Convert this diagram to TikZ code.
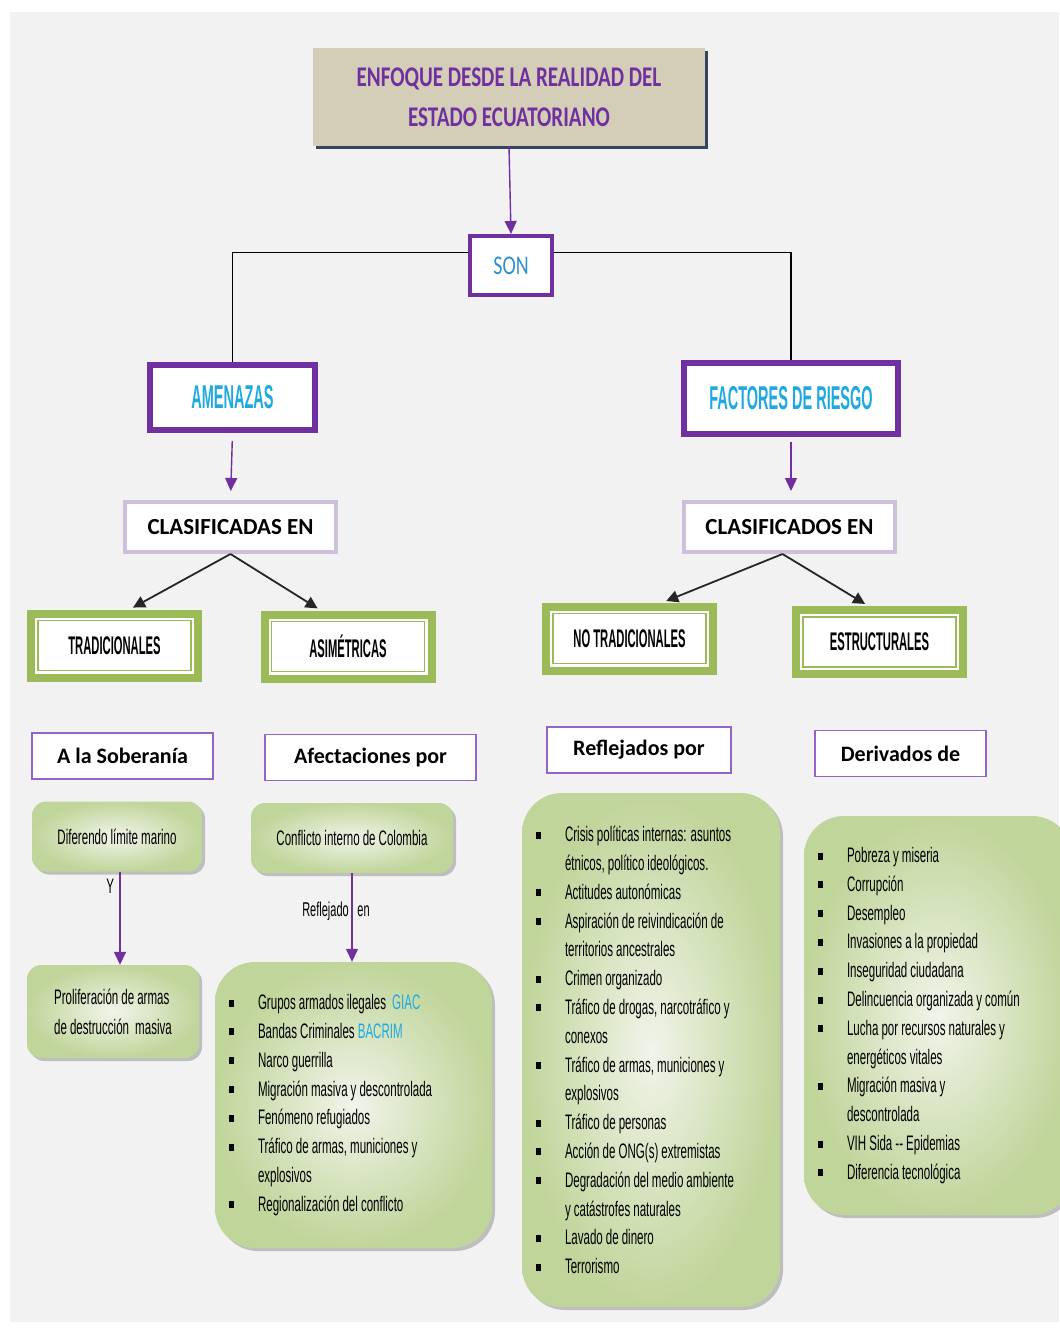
\documentclass[tikz,border=0pt]{standalone}
\usepackage{fontspec}
\newfontfamily\calfont{Carlito}
\newfontfamily\headfont[FakeStretch=0.74]{Carlito}
\newfontfamily\narrowfont[FakeStretch=0.55, WordSpace=0.95]{Liberation Sans}
\newfontfamily\narrowbold[FakeStretch=0.44]{Liberation Sans}
\usetikzlibrary{arrows.meta,shadows}

\definecolor{paper}{HTML}{F2F2F2}
\definecolor{purp}{HTML}{7030A0}
\definecolor{lilac}{HTML}{CCC0DA}
\definecolor{tagline}{HTML}{9366C6}
\definecolor{skyblue}{HTML}{1FA9E1}
\definecolor{sonblue}{HTML}{2E8FD3}
\definecolor{leaf}{HTML}{9BBB59}
\definecolor{sand}{HTML}{D4CEB8}
\definecolor{shadowblue}{HTML}{34455F}
\definecolor{gdark}{HTML}{C0D59A}
\definecolor{glight}{HTML}{F1F4EA}

\newcommand{\bul}{\makebox[29pt][l]{\rule[3pt]{4.5pt}{7pt}}}
\newcommand{\ind}{\hspace*{29pt}}

\tikzset{
  titlebox/.style={fill=sand, minimum width=392pt, minimum height=98pt, align=center, text=purp,
    font=\headfont\bfseries\fontsize{28.5}{40}\selectfont,
    drop shadow={shadow xshift=3pt, shadow yshift=-3pt, fill=shadowblue, opacity=1}},
  sonbox/.style={draw=purp, line width=4pt, fill=white, minimum width=82pt, minimum height=59pt,
    text=sonblue, font=\headfont\fontsize{27}{30}\selectfont},
  mainbox/.style={draw=purp, line width=6pt, fill=white, minimum height=65pt, text=skyblue,
    font=\narrowbold\bfseries\fontsize{33}{36}\selectfont},
  clsbox/.style={draw=lilac, line width=4pt, fill=white, minimum width=211pt, minimum height=50pt,
    font=\calfont\bfseries\fontsize{23}{26}\selectfont},
  typebox/.style={draw=leaf, line width=8pt, fill=white, minimum width=167pt, minimum height=64pt,
    font=\narrowbold\bfseries\fontsize{25.5}{28}\selectfont,
    path picture={\draw[leaf, line width=1.6pt]
      ([shift={(7pt,-7pt)}]path picture bounding box.north west) rectangle
      ([shift={(-7pt,7pt)}]path picture bounding box.south east);}},
  tagbox/.style={draw=tagline, line width=1.8pt, fill=white, minimum height=46pt,
    font=\calfont\bfseries\fontsize{22}{26}\selectfont},
  notebox/.style={rounded corners=14pt, inner color=glight, outer color=gdark, align=left,
    text=black, font=\narrowfont\fontsize{21}{30}\selectfont,
    drop shadow={shadow xshift=3pt, shadow yshift=-3pt, fill=black!45, opacity=.5}},
  listbox/.style={notebox, rounded corners=40pt, inner xsep=14pt, align=flush left,
    font=\narrowfont\fontsize{21}{28.8}\selectfont},
  parrow/.style={draw=purp, line width=1.4pt, -{Triangle[length=13pt,width=12pt]}},
  barrow/.style={draw=black!85, line width=1.8pt, -{Triangle[length=12pt,width=12pt]}}
}

\begin{document}
\begin{tikzpicture}[x=1pt,y=-1pt]

  \useasboundingbox[fill=white] (0,0) rectangle (1059,1329);
  \fill[paper] (10,12) rectangle (1059,1322);

  \node[titlebox] (title) at (509,97) {ENFOQUE DESDE LA REALIDAD DEL\\ESTADO ECUATORIANO};
  \node[sonbox] (son) at (511,265.5) {SON};

  \node[mainbox, minimum width=165pt] (amen) at (232.5,397.5) {AMENAZAS};
  \node[mainbox, minimum width=214pt, minimum height=71pt] (fact) at (791,398.5) {FACTORES DE RIESGO};

  \node[clsbox] (clasA) at (230.5,527) {CLASIFICADAS EN};
  \node[clsbox] (clasB) at (789.5,527) {CLASIFICADOS EN};

  \begin{scope}[every node/.style={typebox}]
    \node (trad)   at (114.5,645.5) {TRADICIONALES};
    \node (asim)   at (348,646.5)   {ASIMÉTRICAS};
    \node (notrad) at (629.5,638.5) {NO TRADICIONALES};
    \node (estr)   at (879.5,642)   {ESTRUCTURALES};
  \end{scope}

  \begin{scope}[every node/.style={tagbox}]
    \node[minimum width=181pt] (sober)  at (122.5,756) {A la Soberanía};
    \node[minimum width=211pt] (afect)  at (370.5,757.5) {Afectaciones por};
    \node[minimum width=184pt] (reflej) at (639,750) {Reflejados por};
    \node[minimum width=171pt] (deriv)  at (900.5,753.5) {Derivados de};
  \end{scope}

  \node[notebox, minimum width=170pt, minimum height=70pt] (difer) at (117,836.5) {Diferendo límite marino};
  \node[notebox, minimum width=172pt, minimum height=93pt] (prolif) at (113,1011.5)
    {Proliferación de armas\\de destrucción\ \ masiva};
  \node[notebox, minimum width=202pt, minimum height=70pt] (confl) at (352,838) {Conflicto interno de Colombia};

  \node[listbox, text width=249pt, minimum height=286pt] (afList) at (353.5,1105) {%
    \bul Grupos armados ilegales\ \ \textcolor{skyblue}{GIAC}\\
    \bul Bandas Criminales \textcolor{skyblue}{BACRIM}\\
    \bul Narco guerrilla\\
    \bul Migración masiva y descontrolada\\
    \bul Fenómeno refugiados\\
    \bul Tráfico de armas, municiones y\\
    \ind explosivos\\
    \bul Regionalización del conflicto};

  \node[listbox, text width=230pt, minimum height=514pt] (reList) at (651,1050) {%
    \bul Crisis políticas internas: asuntos\\
    \ind étnicos, político ideológicos.\\
    \bul Actitudes autonómicas\\
    \bul Aspiración de reivindicación de\\
    \ind territorios ancestrales\\
    \bul Crimen organizado\\
    \bul Tráfico de drogas, narcotráfico y\\
    \ind conexos\\
    \bul Tráfico de armas, municiones y\\
    \ind explosivos\\
    \bul Tráfico de personas\\
    \bul Acción de ONG(s) extremistas\\
    \bul Degradación del medio ambiente\\
    \ind y catástrofes naturales\\
    \bul Lavado de dinero\\
    \bul Terrorismo};

  \node[listbox, text width=240pt, minimum height=399pt] (deList) at (938,1015.5) {%
    \bul Pobreza y miseria\\
    \bul Corrupción\\
    \bul Desempleo\\
    \bul Invasiones a la propiedad\\
    \bul Inseguridad ciudadana\\
    \bul Delincuencia organizada y común\\
    \bul Lucha por recursos naturales y\\
    \ind energéticos vitales\\
    \bul Migración masiva y\\
    \ind descontrolada\\
    \bul VIH Sida -- Epidemias\\
    \bul Diferencia tecnológica};

  \draw[parrow] (title.south) -- (son.north);
  \draw[line width=1.2pt] ([yshift=13pt]son.west) -| (amen.north);
  \draw[line width=1.2pt] ([yshift=13pt]son.east) -| (fact.north);
  \draw[parrow, shorten <=8pt, shorten >=9pt] (amen.south) -- (clasA.north);
  \draw[parrow, shorten <=5pt, shorten >=9pt] (fact.south) -- (fact.south |- clasB.north);

  \draw[barrow, shorten >=4pt] (clasA.south) -- ([xshift=15pt]trad.north);
  \draw[barrow, shorten >=4pt] (clasA.south) -- ([xshift=-27pt]asim.north);
  \draw[barrow, shorten >=4pt] ([xshift=-7pt]clasB.south) -- ([xshift=33pt]notrad.north);
  \draw[barrow, shorten >=4pt] ([xshift=-7pt]clasB.south) -- ([xshift=-11pt]estr.north);

  \draw[parrow] ([xshift=3pt]difer.south) -- ([xshift=3pt]difer.south |- prolif.north)
    node[pos=0.16, left=2pt, font=\narrowfont\fontsize{21}{24}\selectfont] {Y};
  \draw[parrow] (confl.south) -- (confl.south |- afList.north)
    node[pos=0.43, xshift=-16pt, font=\narrowfont\fontsize{20}{24}\selectfont] {Reflejado\ \ \ en};

\end{tikzpicture}
\end{document}
